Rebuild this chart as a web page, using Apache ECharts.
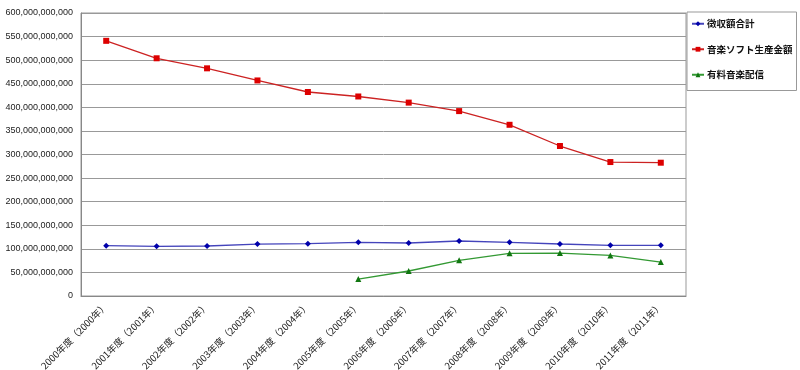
<!DOCTYPE html>
<html><head><meta charset="utf-8">
<script src="https://cdn.jsdelivr.net/npm/echarts@6/dist/echarts.min.js"></script>
<style>html,body{margin:0;padding:0;background:#fff}#c{width:800px;height:370px}</style>
</head><body><div id="c"></div>
<script>
const categories = ['2000年度（2000年）','2001年度（2001年）','2002年度（2002年）','2003年度（2003年）','2004年度（2004年）','2005年度（2005年）','2006年度（2006年）','2007年度（2007年）','2008年度（2008年）','2009年度（2009年）','2010年度（2010年）','2011年度（2011年）'];
const seriesNames = ['徴収額合計','音楽ソフト生産金額','有料音楽配信'];
const collected = [106.6e9,105.3e9,106e9,110e9,111e9,113.8e9,112.4e9,116.6e9,113.8e9,110.2e9,107.5e9,107.5e9];
const softProduction = [541e9,504e9,482.7e9,457e9,432.5e9,423e9,410e9,392e9,363e9,318e9,284e9,282.6e9];
const paidDistribution = [null,null,null,null,null,36e9,53e9,75.6e9,90.5e9,91e9,86e9,72e9];
const yTicks = {min:0,max:600e9,interval:50e9};

const font = '"Noto Sans CJK JP", "Noto Sans", sans-serif';
const chart = echarts.init(document.getElementById('c'));
function fmt(v){return v.toLocaleString('en-US');}
chart.setOption({
  animation:false,
  textStyle:{fontFamily:font},
  grid:{left:81,right:114,top:13,bottom:74,show:true,borderColor:'#999',borderWidth:1,outerBoundsMode:'none',containLabel:false},
  legend:{
    orient:'vertical',left:687,top:12,
    padding:[7,4,11,4],itemGap:16,
    borderColor:'#999',borderWidth:1,
    itemWidth:12,itemHeight:6,
    textStyle:{fontSize:9.5,fontWeight:'bold',color:'#111',fontFamily:font,padding:[0,0,0,-2]},
    data:seriesNames
  },
  xAxis:{
    type:'category',data:categories,boundaryGap:true,
    axisLine:{lineStyle:{color:'#888'}},
    axisTick:{inside:true,length:4,lineStyle:{color:'#888'}},
    axisLabel:{rotate:45,fontSize:9.5,color:'#222',margin:8,interval:0,fontFamily:font}
  },
  yAxis:{
    type:'value',min:yTicks.min,max:yTicks.max,interval:yTicks.interval,
    axisLine:{show:true,lineStyle:{color:'#888'}},
    axisTick:{show:false},
    splitLine:{lineStyle:{color:'#999',width:1}},
    axisLabel:{fontSize:9,color:'#222',margin:8,formatter:fmt,fontFamily:'"Liberation Sans", Arial, sans-serif'}
  },
  series:[
    {name:seriesNames[0],type:'line',data:collected,symbol:'diamond',symbolSize:6,
     itemStyle:{color:'#0000aa'},lineStyle:{color:'#4444bb',width:1.3}},
    {name:seriesNames[1],type:'line',data:softProduction,symbol:'rect',symbolSize:6,
     itemStyle:{color:'#dd0000'},lineStyle:{color:'#cc2222',width:1.3}},
    {name:seriesNames[2],type:'line',data:paidDistribution,symbol:'triangle',symbolSize:6,
     itemStyle:{color:'#117711'},lineStyle:{color:'#339933',width:1.3}}
  ]
});
</script></body></html>
